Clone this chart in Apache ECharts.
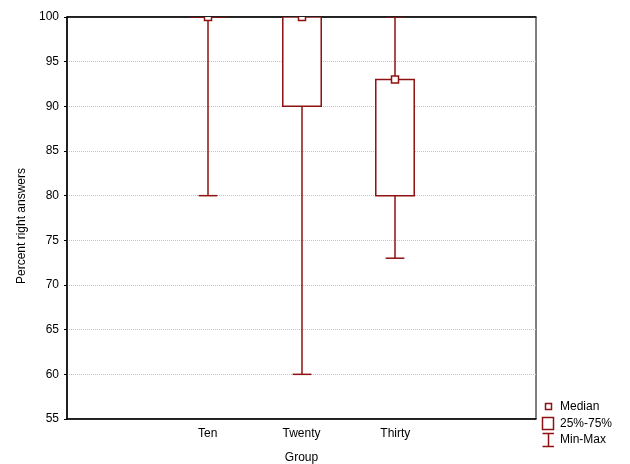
<!DOCTYPE html>
<html>
<head>
<meta charset="utf-8">
<script src="https://cdn.jsdelivr.net/npm/echarts@6/dist/echarts.min.js"></script>
<style>
html, body { margin: 0; padding: 0; background: #fff; }
#chart { width: 630px; height: 464px; }
</style>
</head>
<body>
<div id="chart"></div>
<script>
// axis slots: empty slot on each side like the original
var categories = ['', 'Ten', 'Twenty', 'Thirty', ' '];
var groups = ['Ten', 'Twenty', 'Thirty'];
var mins = [80, 60, 73];
var q1s = [100, 90, 80];
var medians = [100, 100, 93];
var q3s = [100, 100, 93];
var maxs = [100, 100, 100];
var legendNames = ['Median', '25%-75%', 'Min-Max'];

var RED = '#8e1212';
var FONT = '"Liberation Sans", Arial, sans-serif';

var boxData = [];
for (var i = 0; i < groups.length; i++) {
    boxData.push([categories.indexOf(groups[i]), mins[i], q1s[i], medians[i], q3s[i], maxs[i]]);
}

function renderBox(params, api) {
    var idx = api.value(0);
    var band = api.size([1, 0])[0];
    var half = band * 0.205;
    var cap = band * 0.1;
    var pMin = api.coord([idx, api.value(1)]);
    var pQ1 = api.coord([idx, api.value(2)]);
    var pMed = api.coord([idx, api.value(3)]);
    var pQ3 = api.coord([idx, api.value(4)]);
    var pMax = api.coord([idx, api.value(5)]);
    var x = Math.round(pMin[0]);
    var ln = { stroke: RED, lineWidth: 1.5 };
    return {
        type: 'group',
        children: [
            { type: 'line', shape: { x1: x, y1: pMin[1], x2: x, y2: pQ1[1] }, style: ln },
            { type: 'line', shape: { x1: x, y1: pQ3[1], x2: x, y2: pMax[1] }, style: ln },
            { type: 'line', shape: { x1: x - cap, y1: pMin[1], x2: x + cap, y2: pMin[1] }, style: ln },
            { type: 'line', shape: { x1: x - cap, y1: pMax[1], x2: x + cap, y2: pMax[1] }, style: ln },
            { type: 'rect', shape: { x: x - half, y: pQ3[1], width: half * 2, height: pQ1[1] - pQ3[1] },
              style: { stroke: RED, fill: '#fff', lineWidth: 1.5 } },
            { type: 'rect', shape: { x: x - 3.5, y: pMed[1] - 3.5, width: 7, height: 7 },
              style: { stroke: RED, fill: '#fff', lineWidth: 1.5 } }
        ]
    };
}

var myChart = echarts.init(document.getElementById('chart'));
var option = {
    backgroundColor: '#fff',
    animation: false,
    textStyle: { fontFamily: FONT },
    grid: {
        left: 67, top: 17, right: 94, bottom: 45,
        show: true, borderColor: '#000', borderWidth: 1,
        outerBoundsMode: 'none'
    },
    xAxis: [
        {
            type: 'category',
            data: categories,
            position: 'bottom',
            name: 'Group',
            nameLocation: 'middle',
            nameGap: 33,
            nameTextStyle: { color: '#000', fontSize: 12, fontFamily: FONT },
            axisLine: { lineStyle: { color: '#000', width: 1.5 } },
            axisTick: { inside: true, alignWithLabel: true, length: 3, lineStyle: { color: '#000' } },
            axisLabel: { color: '#000', fontSize: 12, margin: 9, fontFamily: FONT },
            splitLine: { show: false }
        },
        {
            type: 'category',
            data: categories,
            position: 'top',
            axisLine: { lineStyle: { color: '#000', width: 1.5 } },
            axisTick: { inside: true, alignWithLabel: true, length: 3, lineStyle: { color: '#000' } },
            axisLabel: { show: false },
            splitLine: { show: false }
        }
    ],
    yAxis: {
        type: 'value',
        min: 55,
        max: 100,
        interval: 5,
        name: 'Percent right answers',
        nameLocation: 'middle',
        nameGap: 39,
        nameTextStyle: { color: '#000', fontSize: 12, fontFamily: FONT, padding: [0, 16, 0, 0] },
        axisLine: { show: true, lineStyle: { color: '#000', width: 1.5 } },
        axisTick: { show: true, length: 3, lineStyle: { color: '#000' } },
        axisLabel: { color: '#000', fontSize: 12, margin: 8, fontFamily: FONT },
        splitLine: { show: true, lineStyle: { color: '#c4c4c4', type: 'dotted', width: 1 } }
    },
    series: [
        {
            name: '25%-75%',
            type: 'custom',
            xAxisIndex: 0,
            clip: true,
            renderItem: renderBox,
            data: boxData
        }
    ],
    graphic: [
        { type: 'rect', shape: { x: 545.5, y: 403.5, width: 6, height: 6 },
          style: { stroke: RED, fill: '#fff', lineWidth: 1.5 } },
        { type: 'text', x: 560, y: 407, style: { text: legendNames[0], fill: '#000', font: '12px ' + FONT, verticalAlign: 'middle' } },
        { type: 'rect', shape: { x: 542.5, y: 417.5, width: 11, height: 12 },
          style: { stroke: RED, fill: '#fff', lineWidth: 1.5 } },
        { type: 'text', x: 560, y: 424, style: { text: legendNames[1], fill: '#000', font: '12px ' + FONT, verticalAlign: 'middle' } },
        { type: 'polyline', shape: { points: [[542.5, 433.5], [554, 433.5]] }, style: { stroke: RED, lineWidth: 1.5 } },
        { type: 'polyline', shape: { points: [[548.5, 433.5], [548.5, 446.5]] }, style: { stroke: RED, lineWidth: 1.5 } },
        { type: 'polyline', shape: { points: [[542.5, 446.5], [554, 446.5]] }, style: { stroke: RED, lineWidth: 1.5 } },
        { type: 'text', x: 560, y: 440, style: { text: legendNames[2], fill: '#000', font: '12px ' + FONT, verticalAlign: 'middle' } }
    ]
};
myChart.setOption(option);
</script>
</body>
</html>
